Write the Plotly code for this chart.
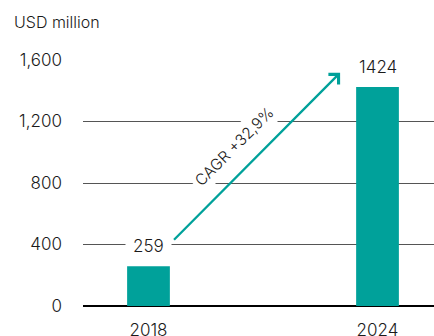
import plotly.graph_objects as go

years = [2018, 2024]
values = [259, 1424]
value_labels = ["259", "1424"]
y_ticks = [0, 400, 800, 1200, 1600]
y_tick_labels = ["0", "400", "800", "1,200", "1,600"]
cagr_text = "CAGR +32,9%"
axis_title = "USD million"

TEAL = "#00A19A"
TEXT = "#1a1a1a"
FONT = "Inter"
W = 300

fig = go.Figure()
fig.add_trace(go.Bar(x=years, y=values, width=1.12, marker=dict(color=TEAL, line=dict(width=0)),
                     hoverinfo="skip"))

# value labels with white background (break gridlines)
for x, v, t in zip(years, values, value_labels):
    fig.add_annotation(x=x, y=v, text=t, showarrow=False, yanchor="middle", yshift=20.5,
                       bgcolor="white", borderpad=7,
                       font=dict(family=FONT, size=17, color=TEXT, weight=W))

# CAGR text
fig.add_annotation(x=2020.24, y=1040, text=cagr_text, showarrow=False, textangle=-45,
                   bgcolor="white", borderpad=3,
                   font=dict(family=FONT, size=15.5, color=TEXT, weight=W))

# arrow
fig.add_annotation(x=2023.02, y=1517, ax=2018.63, ay=421, xref="x", yref="y", axref="x", ayref="y",
                   text="", showarrow=True, arrowhead=4, arrowsize=1.2, arrowwidth=2.3,
                   arrowcolor=TEAL, standoff=0)

fig.update_layout(
    width=434, height=336,
    margin=dict(l=83, r=0, t=60, b=30),
    paper_bgcolor="white", plot_bgcolor="white",
    showlegend=False,
    font=dict(family=FONT, size=17, color=TEXT, weight=W),
    title=dict(text=axis_title, x=14/434, xanchor="left", xref="container",
               y=1 - 22/336, yanchor="middle", yref="container",
               font=dict(family=FONT, size=16, color=TEXT, weight=W)),
    xaxis=dict(range=[2016.284, 2025.48], tickmode="array", tickvals=years,
               ticktext=[str(y) for y in years], showgrid=False, zeroline=False,
               showline=False, ticks="", ticklabelstandoff=12, automargin=False,
               tickfont=dict(family=FONT, size=17, color=TEXT, weight=W)),
    yaxis=dict(range=[0, 1600], tickmode="array", tickvals=y_ticks, ticktext=y_tick_labels,
               showgrid=True, gridcolor="#555555", gridwidth=1,
               zeroline=True, zerolinecolor="black", zerolinewidth=2,
               showline=False, ticks="", ticklabelstandoff=20, automargin=False,
               tickfont=dict(family=FONT, size=17, color=TEXT, weight=W)),
)

fig.write_html("out.html")
